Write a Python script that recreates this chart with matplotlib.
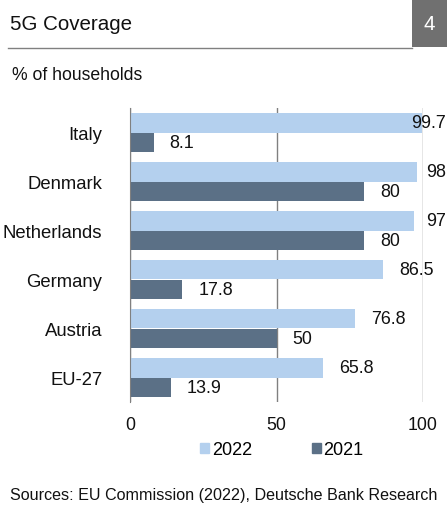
import matplotlib
matplotlib.use("Agg")
import matplotlib.pyplot as plt
from matplotlib.patches import Rectangle, Patch
from matplotlib.lines import Line2D
import numpy as np

plt.rcParams['font.family'] = ['Liberation Sans', 'DejaVu Sans']

countries = ["Italy", "Denmark", "Netherlands", "Germany", "Austria", "EU-27"]
cov_2022 = [99.7, 98, 97, 86.5, 76.8, 65.8]
cov_2021 = [8.1, 80, 80, 17.8, 50, 13.9]
label_2022 = ["99.7", "98", "97", "86.5", "76.8", "65.8"]
label_2021 = ["8.1", "80", "80", "17.8", "50", "13.9"]
xticks = [0, 50, 100]

light = "#b4d0ee"
dark = "#5b7086"
grey = "#808080"

W, H = 447, 506
fig = plt.figure(figsize=(W / 100, H / 100), dpi=100)

# header: title, underline, page-number box
fig.text(10 / W, 1 - 25 / H, "5G Coverage", fontsize=14.8, va="center", ha="left", color="#111111")
fig.add_artist(Line2D([8 / W, 412 / W], [1 - 49 / H, 1 - 49 / H], color=grey, lw=1.0))
fig.add_artist(Rectangle((412 / W, 1 - 48 / H), 35 / W, 48 / H, color="#707070", lw=0))
fig.text(429 / W, 1 - 25 / H, "4", fontsize=14.8, va="center", ha="center", color="white")
fig.text(12 / W, 1 - 75 / H, "% of households", fontsize=12.7, va="center", ha="left", color="#111111")

ax = fig.add_axes([130 / W, 1 - 403 / H, 293 / W, 294 / H])
y = np.arange(len(countries))
h = 0.4
ax.barh(y - h / 2, cov_2022, height=h, color=light, label="2022", zorder=2)
ax.barh(y + h / 2, cov_2021, height=h, color=dark, label="2021", zorder=2)

ax.set_xlim(0, 100)
ax.set_ylim(len(countries) - 0.5, -0.5)
ax.set_xticks(xticks)
ax.set_xticklabels([str(t) for t in xticks])
ax.set_yticks(y)
ax.set_yticklabels(countries, fontsize=13.3)
ax.tick_params(axis="both", length=0, colors="#111111")
ax.tick_params(axis="x", pad=10, labelsize=12.8)
ax.tick_params(axis="y", pad=20)
ax.grid(axis="x", color=grey, lw=1.0, zorder=1)
for s in ["top", "right", "bottom"]:
    ax.spines[s].set_visible(False)
ax.spines["left"].set_color(grey)
ax.spines["left"].set_zorder(3)

anns = []
for i in range(len(countries)):
    for val, txt, off in [(cov_2022[i], label_2022[i], -h / 2), (cov_2021[i], label_2021[i], h / 2)]:
        a = ax.annotate(txt, (val, i + off), xytext=(11.5, 0), textcoords="offset points",
                        va="center", ha="left", fontsize=12.9, color="#111111",
                        annotation_clip=False, zorder=4)
        anns.append(a)

# pull labels that would run past the right edge back inside
fig.canvas.draw()
r = fig.canvas.get_renderer()
for a in anns:
    bb = a.get_window_extent(r)
    over = bb.x1 - (W - 1)
    if over > 0:
        a.xyann = (11.5 - over * 72 / 100, 0)

handles = [Patch(color=light, label="2022"), Patch(color=dark, label="2021")]
fig.legend(handles=handles, loc="center", bbox_to_anchor=(282 / W, 1 - 451 / H), ncol=2,
           frameon=False, fontsize=13, handlelength=0.5, handleheight=0.5,
           handletextpad=0.15, columnspacing=3.3, borderaxespad=0, borderpad=0)

fig.text(10 / W, 1 - 496 / H, "Sources: EU Commission (2022), Deutsche Bank Research",
         fontsize=11.6, va="center", ha="left", color="#111111")

fig.savefig("out.png", dpi=100)
